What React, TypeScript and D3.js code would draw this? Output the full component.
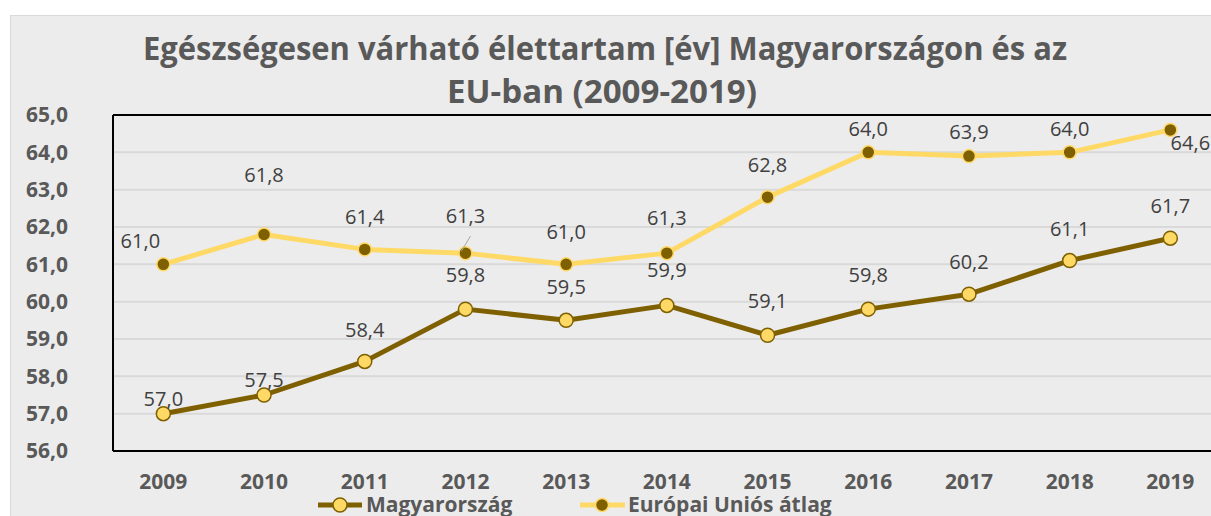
import React from "react";
import * as d3 from "d3";

const years = ["2009","2010","2011","2012","2013","2014","2015","2016","2017","2018","2019"];
const huValues = [57.0,57.5,58.4,59.8,59.5,59.9,59.1,59.8,60.2,61.1,61.7];
const euValues = [61.0,61.8,61.4,61.3,61.0,61.3,62.8,64.0,63.9,64.0,64.6];
const yTicks = [56,57,58,59,60,61,62,63,64,65];
const seriesNames = ["Magyarország","Európai Uniós átlag"];
const titleLines = ["Egészségesen várható élettartam [év] Magyarországon és az","EU-ban (2009-2019)"];
// label offsets (dx, dy of label center relative to point)
const huLabelOffsets = [[0,-15],[0,-15],[0,-31],[0,-34],[0,-33],[0,-35],[0,-34],[0,-34],[0,-32],[0,-32],[0,-32]];
const euLabelOffsets = [[-23,-23],[0,-59],[0,-32],[0,-37],[0,-32],[0,-35],[0,-32],[0,-23],[0,-24],[0,-23],[20,13]];

const W = 1211, H = 516;
const left = 113, top = 115, bottom = 451;
const band = 100.7;
const right = left + band * years.length;

const fmt = (v: number) => v.toFixed(1).replace(".", ",");

export default function App() {
  const x = d3.scaleBand<string>().domain(years).range([left, right]);
  const y = d3.scaleLinear().domain([56, 65]).range([bottom, top]);
  const cx = (yr: string) => (x(yr) as number) + x.bandwidth() / 2;
  const line = d3.line<number>().x((_, i) => cx(years[i])).y(d => y(d));
  const font = "'Open Sans', sans-serif";
  const grey = "#595959";
  const dark = "#7f6000";
  const gold = "#ffd966";
  return (
    <svg width={W} height={H} style={{ position: "absolute", left: 0, top: 0, display: "block" }} fontFamily={font}>
      <rect x={0} y={0} width={W} height={H} fill="#ffffff" />
      <rect x={10.5} y={15.5} width={W + 10} height={H} fill="#ececec" stroke="#d9d9d9" />
      <text x={605} y={60} textAnchor="middle" fontWeight="bold" fontSize={32} fill={grey} textLength={924} lengthAdjust="spacingAndGlyphs">{titleLines[0]}</text>
      <text x={602} y={103} textAnchor="middle" fontWeight="bold" fontSize={32} fill={grey} textLength={310} lengthAdjust="spacingAndGlyphs">{titleLines[1]}</text>
      {yTicks.map(t => (
        <g key={t}>
          {t > 56 && t < 65 && <line x1={left} x2={right} y1={y(t)} y2={y(t)} stroke="#d9d9d9" strokeWidth={2} />}
          <text x={68} y={y(t)} dy="0.35em" textAnchor="end" fontWeight="bold" fontSize={21} fill={grey}>{fmt(t)}</text>
        </g>
      ))}
      <line x1={left} x2={right} y1={top} y2={top} stroke="#000" strokeWidth={2} />
      <line x1={left} x2={right} y1={bottom} y2={bottom} stroke="#000" strokeWidth={2} />
      <line x1={left} x2={left} y1={top} y2={bottom} stroke="#000" strokeWidth={2} />
      <line x1={right} x2={right} y1={top} y2={bottom} stroke="#000" strokeWidth={2} />
      {years.map(yr => (
        <text key={yr} x={cx(yr)} y={489} textAnchor="middle" fontWeight="bold" fontSize={21} fill={grey}>{yr}</text>
      ))}
      <path d={line(euValues) || ""} fill="none" stroke={gold} strokeWidth={5} strokeLinejoin="round" />
      <path d={line(huValues) || ""} fill="none" stroke={dark} strokeWidth={5} strokeLinejoin="round" />
      {euValues.map((v, i) => (
        <circle key={"e" + i} cx={cx(years[i])} cy={y(v)} r={6.5} fill={dark} stroke={gold} strokeWidth={1.5} />
      ))}
      {huValues.map((v, i) => (
        <circle key={"h" + i} cx={cx(years[i])} cy={y(v)} r={7} fill={gold} stroke={dark} strokeWidth={1.5} />
      ))}
      {huValues.map((v, i) => (
        <text key={"hl" + i} x={cx(years[i]) + huLabelOffsets[i][0]} y={y(v) + huLabelOffsets[i][1]} dy="0.35em" textAnchor="middle" fontSize={20} fill="#404040">{fmt(v)}</text>
      ))}
      {euValues.map((v, i) => (
        <text key={"el" + i} x={cx(years[i]) + euLabelOffsets[i][0]} y={y(v) + euLabelOffsets[i][1]} dy="0.35em" textAnchor="middle" fontSize={20} fill="#404040">{fmt(v)}</text>
      ))}
      <line x1={cx(years[3]) + 5} y1={y(euValues[3]) - 17} x2={cx(years[3]) - 4} y2={y(euValues[3]) - 2} stroke="#a6a6a6" strokeWidth={1} />
      <g>
        <line x1={318} x2={362} y1={505} y2={505} stroke={dark} strokeWidth={5} />
        <circle cx={340} cy={505} r={7} fill={gold} stroke={dark} strokeWidth={1.5} />
        <text x={366} y={505} dy="0.35em" fontWeight="bold" fontSize={21} fill={grey}>{seriesNames[0]}</text>
        <line x1={580} x2={625} y1={505} y2={505} stroke={gold} strokeWidth={5} />
        <circle cx={602} cy={505} r={6.5} fill={dark} stroke={gold} strokeWidth={1.5} />
        <text x={628} y={505} dy="0.35em" fontWeight="bold" fontSize={21} fill={grey}>{seriesNames[1]}</text>
      </g>
    </svg>
  );
}
